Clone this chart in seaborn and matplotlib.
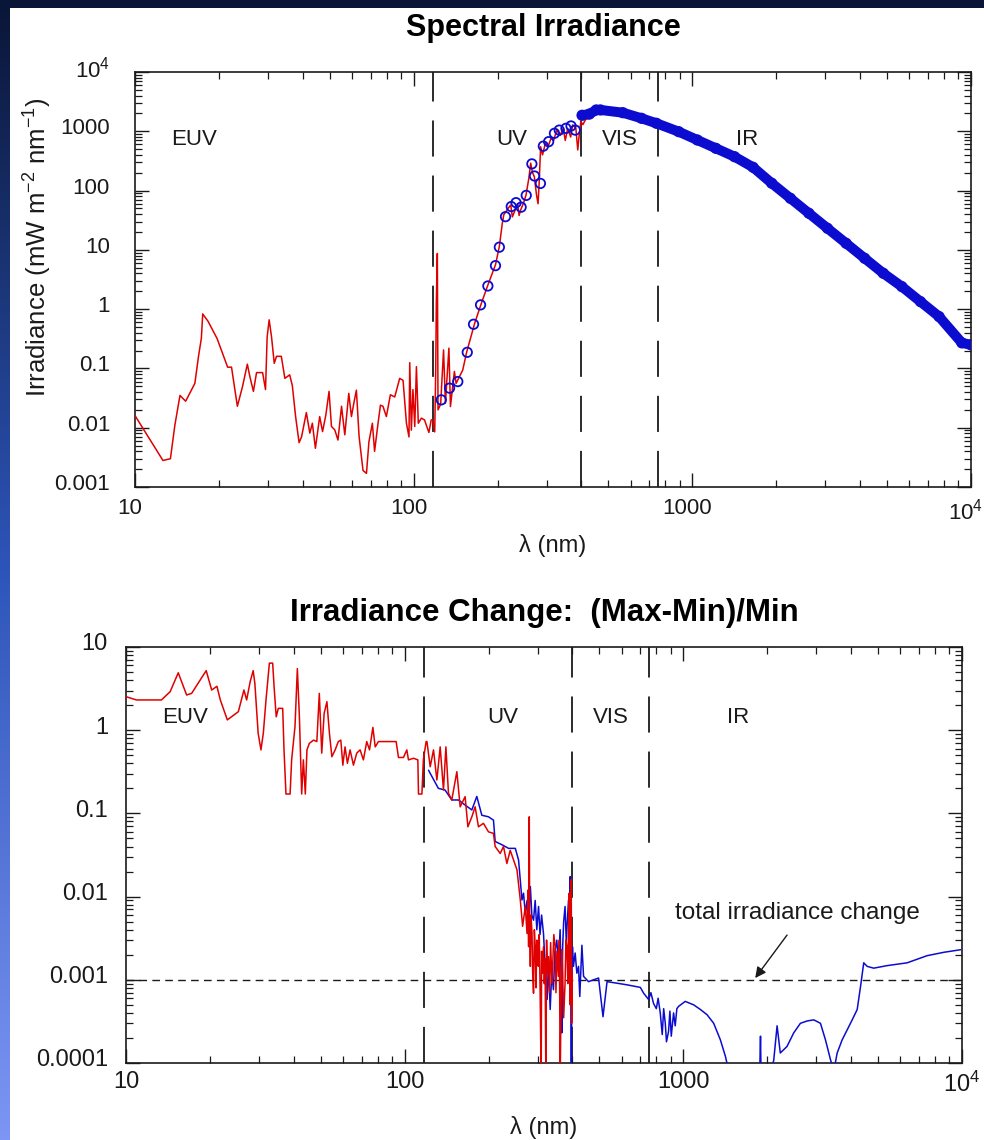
import numpy as np
import pandas as pd
import matplotlib
matplotlib.use("Agg")
import matplotlib.pyplot as plt
import matplotlib.transforms as mtransforms
import seaborn as sns
from matplotlib.patches import Rectangle
from matplotlib.ticker import FixedLocator, FixedFormatter, LogLocator, NullFormatter

# ---------------------------------------------------------------- data
# Spectral irradiance (mW m-2 nm-1): high-resolution EUV/UV spectrum
TOP_RED_WL = [10.0, 12.6, 13.4, 13.9, 14.5, 15.2, 16.4, 16.9, 17.3, 17.5, 18.3, 19.7,
              21.5, 22.2, 23.3, 24.3, 25.3, 25.8, 26.6, 27.3, 28.7, 29.4, 29.8, 30.3,
              30.9, 31.6, 32.2, 33.5, 34.5, 35.9, 36.7, 37.7, 38.8, 39.6, 41.2, 42.4,
              43.3, 44.4, 46.0, 47.1, 48.4, 49.7, 50.7, 52.1, 53.5, 55.1, 56.6, 58.5,
              59.8, 61.0, 62.3, 63.7, 65.8, 67.7, 69.1, 71.1, 72.4, 74.5, 76.0, 77.6,
              79.8, 82.5, 85.5, 89.1, 91.6, 94.2, 96.2, 96.8, 98.1, 99.4, 100.9, 102.3,
              103.9, 106.6, 109.4, 113.4, 115.6, 117.0, 119.0, 120.0, 120.6, 121.6,
              122.3, 125.0, 128.0, 130.0, 133.8, 135.5, 140.0, 142.0, 150.0, 155.0,
              165.6, 175.0, 184.7, 196.6, 203.0, 208.0, 210.6, 218.0, 223.0, 226.0,
              230.0, 236.0, 239.0, 242.0, 248.0, 253.0, 259.0, 263.0, 267.0, 271.0,
              276.0, 279.5, 282.0, 285.5, 290.0, 297.0, 304.0, 311.0, 318.0, 326.0,
              335.0, 344.0, 350.0, 357.0, 366.0, 372.0, 382.0, 388.0, 393.0, 398.0,
              405.0, 413.0, 420.0]
TOP_RED_IRR = [0.016, 0.0028, 0.0030, 0.011, 0.035, 0.028, 0.056, 0.16, 0.32, 0.83, 0.62, 0.32,
               0.105, 0.105, 0.023, 0.049, 0.118, 0.075, 0.041, 0.085, 0.085, 0.044, 0.34, 0.66,
               0.34, 0.122, 0.16, 0.16, 0.068, 0.078, 0.051, 0.0154, 0.0056, 0.0070, 0.018, 0.0081,
               0.0119, 0.0045, 0.0154, 0.0086, 0.0164, 0.041, 0.0105, 0.0092, 0.0062, 0.023, 0.0076, 0.038,
               0.0154, 0.026, 0.043, 0.0071, 0.0019, 0.0017, 0.0058, 0.0119, 0.0040, 0.0119, 0.024, 0.023,
               0.0154, 0.036, 0.033, 0.068, 0.063, 0.0119, 0.0070, 0.125, 0.0091, 0.044, 0.0105, 0.107,
               0.0119, 0.0145, 0.0135, 0.0083, 0.0135, 0.0136, 0.0085, 0.094, 1.3, 8.7,
               0.020, 0.025, 0.205, 0.026, 0.22, 0.0227, 0.089, 0.056, 0.094, 0.19,
               0.58, 1.26, 2.56, 5.6, 11.4, 28.0, 39.0, 50.0, 57.0, 36.0,
               44.0, 60.0, 38.0, 47.0, 62.0, 84.0, 161.0, 290.0, 200.0, 172.0,
               84.0, 60.0, 132.0, 550.0, 400.0, 627.0, 560.0, 760.0, 700.0, 1050.0,
               850.0, 1120.0, 700.0, 1120.0, 800.0, 1280.0, 1120.0, 485.0, 900.0, 1450.0,
               1300.0, 1550.0, 1650.0]

# Spectral irradiance: UV band measurements (open circles)
UV_PT_WL = [125.6, 134.5, 144.0, 155.7, 164.0, 173.8, 184.6, 196.6, 203.0, 213.6, 224.0,
            233.0, 243.0, 253.5, 265.6, 271.5, 285.0, 292.0, 305.0, 320.0, 333.0, 352.0,
            367.0, 380.0]
UV_PT_IRR = [0.0295, 0.0465, 0.060, 0.187, 0.556, 1.18, 2.46, 5.42, 11.1, 36.3, 53.7,
             62.5, 52.5, 83.0, 282.0, 176.0, 132.0, 562.0, 668.0, 925.0, 1047.0, 1122.0,
             1230.0, 1047.0]

# Spectral irradiance: visible / infrared measurements (dense circles)
VISIR_WL = [402, 427, 452, 468, 563, 657, 743, 893, 1042, 1215, 1417, 1652, 1927,
            2248, 2620, 3055, 3563, 4154, 4844, 5648, 6586, 7680, 9270, 10000]
VISIR_IRR = [1862, 1950, 2290, 2290, 2060, 1656, 1365, 986, 713, 516, 373, 247, 133,
             74.1, 41.4, 23.1, 12.9, 7.2, 4.03, 2.40, 1.34, 0.75, 0.27, 0.25]

# Fractional irradiance change (Max-Min)/Min: EUV/UV spectrum
CHG_RED_WL = [10.0, 10.9, 13.4, 14.4, 15.4, 16.5, 17.2, 19.4, 20.3, 21.2, 21.8, 23.1,
              25.3, 26.5, 27.1, 27.9, 28.6, 29.0, 29.8, 30.5, 31.1, 31.8, 32.7, 33.6,
              34.0, 34.6, 35.2, 36.5, 36.9, 37.5, 38.8, 39.3, 40.4, 41.2, 41.9, 42.7,
              43.3, 44.0, 44.6, 45.5, 47.1, 48.4, 49.4, 50.4, 51.4, 52.6, 53.7, 54.8,
              56.3, 57.8, 59.0, 60.0, 61.1, 62.3, 63.7, 65.5, 67.3, 69.2, 71.1, 73.1,
              74.8, 76.9, 78.4, 80.5, 83.9, 86.3, 93.2, 95.0, 99.0, 101.8, 103.2, 107.6,
              111.5, 112.1, 115.3, 116.7, 119.4, 120.2, 123.5, 126.9, 130.5, 134.1, 137.8,
              140.6, 143.6, 147.6, 153.9, 158.2, 164.8, 168.6, 174.2, 179.0, 184.0, 191.7,
              199.9, 208.3, 211.2, 220.2, 226.3, 232.7, 239.2, 246.0, 252.9, 260.0, 265.0,
              271.0, 274.9, 277.0, 278.5, 280.0, 281.0, 282.5, 284.0, 286.4, 288.0, 290.0,
              292.0, 294.2, 296.0, 298.0, 300.0, 302.3, 304.0, 306.0, 309.0, 310.0, 312.0,
              314.9, 317.0, 319.0, 321.2, 323.0, 325.0, 328.2, 331.0, 334.0, 337.6, 340.0,
              343.0, 346.8, 349.0, 352.0, 356.3, 359.0, 361.5, 363.0, 366.2, 369.0, 372.0,
              376.3, 379.0, 381.9, 385.0, 387.0, 389.6, 391.0, 392.8, 394.5, 396.0, 397.5,
              399.0]
CHG_RED = [2.53, 2.31, 2.31, 2.9, 4.9, 2.65, 2.77, 5.2, 3.04, 3.37, 2.31, 1.33,
           1.67, 3.04, 2.31, 3.83, 5.2, 3.66, 0.92, 0.58, 0.92, 2.31, 6.4, 6.4,
           3.3, 1.45, 1.83, 1.83, 0.58, 0.171, 0.171, 0.44, 1.1, 5.5, 1.45, 0.171,
           0.44, 0.171, 0.58, 0.695, 0.76, 0.73, 2.77, 0.53, 1.59, 2.2, 0.92, 0.48,
           0.58, 0.73, 0.76, 0.38, 0.63, 0.40, 0.58, 0.38, 0.53, 0.58, 0.44, 0.73,
           0.58, 1.08, 0.63, 0.73, 0.73, 0.73, 0.73, 0.47, 0.47, 0.58, 0.44, 0.46,
           0.44, 0.171, 0.171, 0.44, 0.73, 0.73, 0.364, 0.58, 0.252, 0.63, 0.191,
           0.63, 0.175, 0.145, 0.317, 0.12, 0.159, 0.069, 0.091, 0.12, 0.069, 0.076,
           0.060, 0.0575, 0.040, 0.033, 0.040, 0.025, 0.036, 0.0275, 0.021, 0.0091, 0.0044,
           0.0076, 0.0036, 0.012, 0.0025, 0.091, 0.004, 0.00145, 0.006, 0.0036, 0.0012, 0.00069,
           0.004, 0.0025, 0.0008, 0.003, 0.0015, 0.00145, 0.0035, 0.0009, 0.00006, 0.0022, 0.0012,
           0.0025, 0.0009, 0.0018, 0.00006, 0.0030, 0.0012, 0.0019, 0.0007, 0.0028, 0.00091, 0.0016,
           0.0035, 0.0025, 0.0007, 0.0022, 0.0011, 0.0030, 0.00006, 0.00023, 0.0023, 0.0012, 0.00035,
           0.00091, 0.0030, 0.0025, 0.0009, 0.0045, 0.011, 0.0012, 0.0005, 0.0035, 0.016, 0.0003,
           0.0012]

# Fractional irradiance change: UV to infrared spectrum
CHG_BLUE_WL = [121.8, 132.1, 139.6, 147.6, 156.0, 164.8, 174.2, 181.5, 189.2, 199.9, 208.3,
               211.2, 223.4, 236.0, 249.5, 256.3, 263.6, 267.0, 271.0, 275.0, 278.0, 282.5,
               286.0, 290.0, 294.0, 298.0, 302.3, 306.0, 310.0, 314.9, 318.0, 321.0, 324.6,
               328.0, 332.8, 337.0, 341.9, 346.0, 351.6, 356.0, 361.3, 364.0, 366.2, 369.0,
               372.0, 376.3, 380.0, 384.0, 387.3, 390.0, 392.8, 394.0, 396.4, 398.0, 400.0,
               403.3, 409.1, 414.9, 420.7, 425.0, 432.5, 438.5, 457.0, 476.3, 496.4, 514.9,
               532.4, 578.3, 628.1, 701.1, 720.4, 750.5, 765.0, 781.7, 800.0, 812.0, 826.4,
               840.0, 850.0, 861.4, 870.0, 885.1, 895.0, 905.0, 922.6, 935.0, 948.0, 961.7,
               1016, 1089, 1151, 1217, 1285, 1358, 1416, 1455, 1880, 1892, 1900, 2053, 2110,
               2170, 2228, 2355, 2489, 2631, 2781, 2939, 3105, 3236, 3373, 3467, 3565,
               3715, 3872, 4036, 4207, 4324, 4440, 4567, 4822, 5385, 6355, 7497, 8603, 9890]
CHG_BLUE = [0.33, 0.20, 0.191, 0.145, 0.145, 0.126, 0.11, 0.16, 0.095, 0.091, 0.083,
            0.046, 0.042, 0.038, 0.038, 0.0275, 0.0091, 0.011, 0.0063, 0.009, 0.0045, 0.0132,
            0.006, 0.0052, 0.009, 0.004, 0.0076, 0.0035, 0.006, 0.0036, 0.0019, 0.0009, 0.00058,
            0.0016, 0.00044, 0.0012, 0.00076, 0.0022, 0.0030, 0.0015, 0.0040, 0.0012, 0.00023, 0.0025,
            0.0050, 0.0076, 0.0030, 0.0055, 0.0091, 0.0040, 0.0174, 0.0030, 0.00005, 0.0009, 0.0025,
            0.00145, 0.0021, 0.0012, 0.00145, 0.00063, 0.0026, 0.0011, 0.00095, 0.0010, 0.00105, 0.00036,
            0.00095, 0.00091, 0.00087, 0.00081, 0.00069, 0.00058, 0.0007, 0.00052, 0.00045, 0.0006, 0.0004,
            0.00022, 0.00045, 0.0003, 0.00018, 0.00024, 0.00042, 0.00021, 0.0004, 0.00028, 0.00045, 0.00048,
            0.00055, 0.00050, 0.00044, 0.00038, 0.00030, 0.00019, 0.00012, 0.00008, 0.00008, 0.00021, 0.00008, 0.00008, 0.000107,
            0.00028, 0.000132, 0.000158, 0.00023, 0.00030, 0.00032, 0.00033, 0.00030, 0.00019, 0.00011, 0.00008, 0.000132,
            0.00019, 0.00025, 0.00033, 0.00044, 0.00083, 0.0016, 0.00145, 0.00138, 0.00148, 0.0016, 0.00195, 0.00214, 0.0023]

TOTAL_CHANGE = 0.001
REGION_BOUNDS = [117, 400, 750]
REGION_NAMES = ["EUV", "UV", "VIS", "IR"]
X_TICKS = [10, 100, 1000, 10000]
X_TICK_LABELS = ["10", "100", "1000", r"$\mathregular{10^4}$"]
TOP_Y_TICKS = [1e-3, 1e-2, 1e-1, 1, 10, 100, 1000, 1e4]
TOP_Y_LABELS = ["0.001", "0.01", "0.1", "1", "10", "100", "1000", r"$\mathregular{10^4}$"]
BOT_Y_TICKS = [1e-4, 1e-3, 1e-2, 1e-1, 1, 10]
BOT_Y_LABELS = ["0.0001", "0.001", "0.01", "0.1", "1", "10"]

# ---------------------------------------------------------------- style
sns.set_theme(style="ticks")
plt.rcParams["font.family"] = ["Liberation Sans", "DejaVu Sans"]
plt.rcParams["mathtext.fontset"] = "custom"
plt.rcParams["mathtext.rm"] = "Liberation Sans"
plt.rcParams["mathtext.it"] = "Liberation Sans:italic"
plt.rcParams["mathtext.bf"] = "Liberation Sans:bold"

RED = "#e00000"
BLUE = "#0c0cd0"
INK = "#1a1a1a"

W, H = 984, 1140
fig = plt.figure(figsize=(W / 100, H / 100), dpi=100)

# slide background: vertical navy-to-periwinkle gradient
bg = fig.add_axes([0, 0, 1, 1], zorder=-10)
t = np.linspace(0, 1, 256)[:, None]
top_c = np.array([10, 22, 55]) / 255
mid_c = np.array([45, 85, 185]) / 255
bot_c = np.array([125, 150, 245]) / 255
grad = np.where(t < 0.5, top_c + (mid_c - top_c) * (t / 0.5),
                mid_c + (bot_c - mid_c) * ((t - 0.5) / 0.5))
grad = np.repeat(grad[:, None, :], 4, axis=1)
bg.imshow(grad, aspect="auto", extent=[0, 1, 0, 1], origin="upper")
bg.set_axis_off()
fig.patches.append(Rectangle((10 / W, 0), 1 - 10 / W, 1 - 8 / H, transform=fig.transFigure,
                             facecolor="white", edgecolor="none", zorder=-5))

ax1 = fig.add_axes([135 / W, 1 - 487 / H, (971 - 135) / W, (487 - 72) / H])
ax2 = fig.add_axes([126 / W, 1 - 1063 / H, (962 - 126) / W, (1063 - 647) / H])


def style_axis(ax, yticks, ylabels, ylim, labelsize, ypad, xpad):
    ax.set_xscale("log")
    ax.set_yscale("log")
    ax.set_xlim(10, 1e4)
    ax.set_ylim(*ylim)
    ax.xaxis.set_major_locator(FixedLocator(X_TICKS))
    ax.xaxis.set_major_formatter(FixedFormatter(X_TICK_LABELS))
    ax.yaxis.set_major_locator(FixedLocator(yticks))
    ax.yaxis.set_major_formatter(FixedFormatter(ylabels))
    ax.xaxis.set_minor_locator(LogLocator(base=10, subs=np.arange(2, 10), numticks=50))
    ax.yaxis.set_minor_locator(LogLocator(base=10, subs=np.arange(2, 10), numticks=50))
    ax.xaxis.set_minor_formatter(NullFormatter())
    ax.yaxis.set_minor_formatter(NullFormatter())
    ax.tick_params(which="major", direction="in", length=10, width=1.0, top=True, right=True,
                   labelsize=labelsize, colors=INK)
    ax.tick_params(which="minor", direction="in", length=5, width=0.9, top=True, right=True,
                   colors=INK)
    ax.tick_params(axis="y", which="major", pad=ypad)
    ax.tick_params(axis="x", which="major", pad=xpad)
    for s in ax.spines.values():
        s.set_linewidth(1.2)
        s.set_color(INK)
        s.set_visible(True)
    ax.set_facecolor("white")
    for b in REGION_BOUNDS:
        ax.axvline(b, color=INK, lw=1.3, dashes=(20, 10.5), zorder=1)


# ---------------------------------------------------------------- top panel
style_axis(ax1, TOP_Y_TICKS, TOP_Y_LABELS, (1e-3, 1e4), 16, 18, 8)
top_red = pd.DataFrame({"wl": TOP_RED_WL, "irr": TOP_RED_IRR})
uv_pts = pd.DataFrame({"wl": UV_PT_WL, "irr": UV_PT_IRR})
visir = pd.DataFrame({"wl": VISIR_WL, "irr": VISIR_IRR})

sns.lineplot(data=visir, x="wl", y="irr", ax=ax1, color=BLUE, lw=7.2, sort=False,
             estimator=None, zorder=3)
sns.lineplot(data=top_red, x="wl", y="irr", ax=ax1, color=RED, lw=1.1, sort=False,
             estimator=None, zorder=4)
sns.scatterplot(data=pd.concat([uv_pts, visir]), x="wl", y="irr", ax=ax1, marker="o", s=46,
                facecolor="none", edgecolor=BLUE, linewidth=1.3, zorder=5)

ax1.set_xlabel("λ (nm)", fontsize=17, color=INK, labelpad=7)
ax1.set_ylabel(r"Irradiance (mW m$^{\mathregular{-2}}$ nm$^{\mathregular{-1}}$)",
               fontsize=18.5, color=INK)
ax1.yaxis.set_label_coords(-0.097, 0.578)

top_label_pos = [(16.3, 713), (225, 713), (549, 713), (1570, 713)]
for name, (x, y) in zip(REGION_NAMES, top_label_pos):
    ax1.text(x, y, name, ha="center", va="center", fontsize=16, color=INK)

# ---------------------------------------------------------------- bottom panel
style_axis(ax2, BOT_Y_TICKS, BOT_Y_LABELS, (1e-4, 10), 17, 13, 6)
chg_red = pd.DataFrame({"wl": CHG_RED_WL, "chg": CHG_RED})
chg_blue = pd.DataFrame({"wl": CHG_BLUE_WL, "chg": CHG_BLUE})
sns.lineplot(data=chg_blue, x="wl", y="chg", ax=ax2, color=BLUE, lw=1.1, sort=False,
             estimator=None, zorder=3)
sns.lineplot(data=chg_red, x="wl", y="chg", ax=ax2, color=RED, lw=1.1, sort=False,
             estimator=None, zorder=4)
ax2.axhline(TOTAL_CHANGE, color=INK, lw=1.0, dashes=(5.5, 3.8), zorder=2)
ax2.annotate("", xy=(1811, 0.00105), xytext=(2356, 0.00345),
             arrowprops=dict(arrowstyle="-|>", color=INK, lw=1.0, mutation_scale=16,
                             shrinkA=0, shrinkB=0))
ax2.text(2565, 0.0064, "total irradiance change", ha="center", va="center",
         fontsize=17.5, color=INK)
ax2.set_xlabel("λ (nm)", fontsize=17, color=INK, labelpad=14)
ax2.set_ylabel("")

bot_label_pos = [(16.3, 1.44), (224, 1.44), (551, 1.44), (1574, 1.44)]
for name, (x, y) in zip(REGION_NAMES, bot_label_pos):
    ax2.text(x, y, name, ha="center", va="center", fontsize=16, color=INK)

# titles
fig.text(543 / W, 1 - 28 / H, "Spectral Irradiance", ha="center", va="center",
         fontsize=22, fontweight="bold", color="black")
fig.text(544 / W, 1 - 613 / H, "Irradiance Change:  (Max-Min)/Min", ha="center",
         va="center", fontsize=22.5, fontweight="bold", color="black")

# nudge tick labels: y labels sit slightly above their ticks, top x labels slightly left
fig.canvas.draw()
up = mtransforms.ScaledTranslation(0, 0.05, fig.dpi_scale_trans)
left = mtransforms.ScaledTranslation(-0.05, 0, fig.dpi_scale_trans)
for ax in (ax1, ax2):
    for lab in ax.get_yticklabels():
        lab.set_transform(lab.get_transform() + up)
for lab in ax1.get_xticklabels():
    lab.set_transform(lab.get_transform() + left)

fig.savefig("out.png", dpi=100, facecolor=fig.get_facecolor())
